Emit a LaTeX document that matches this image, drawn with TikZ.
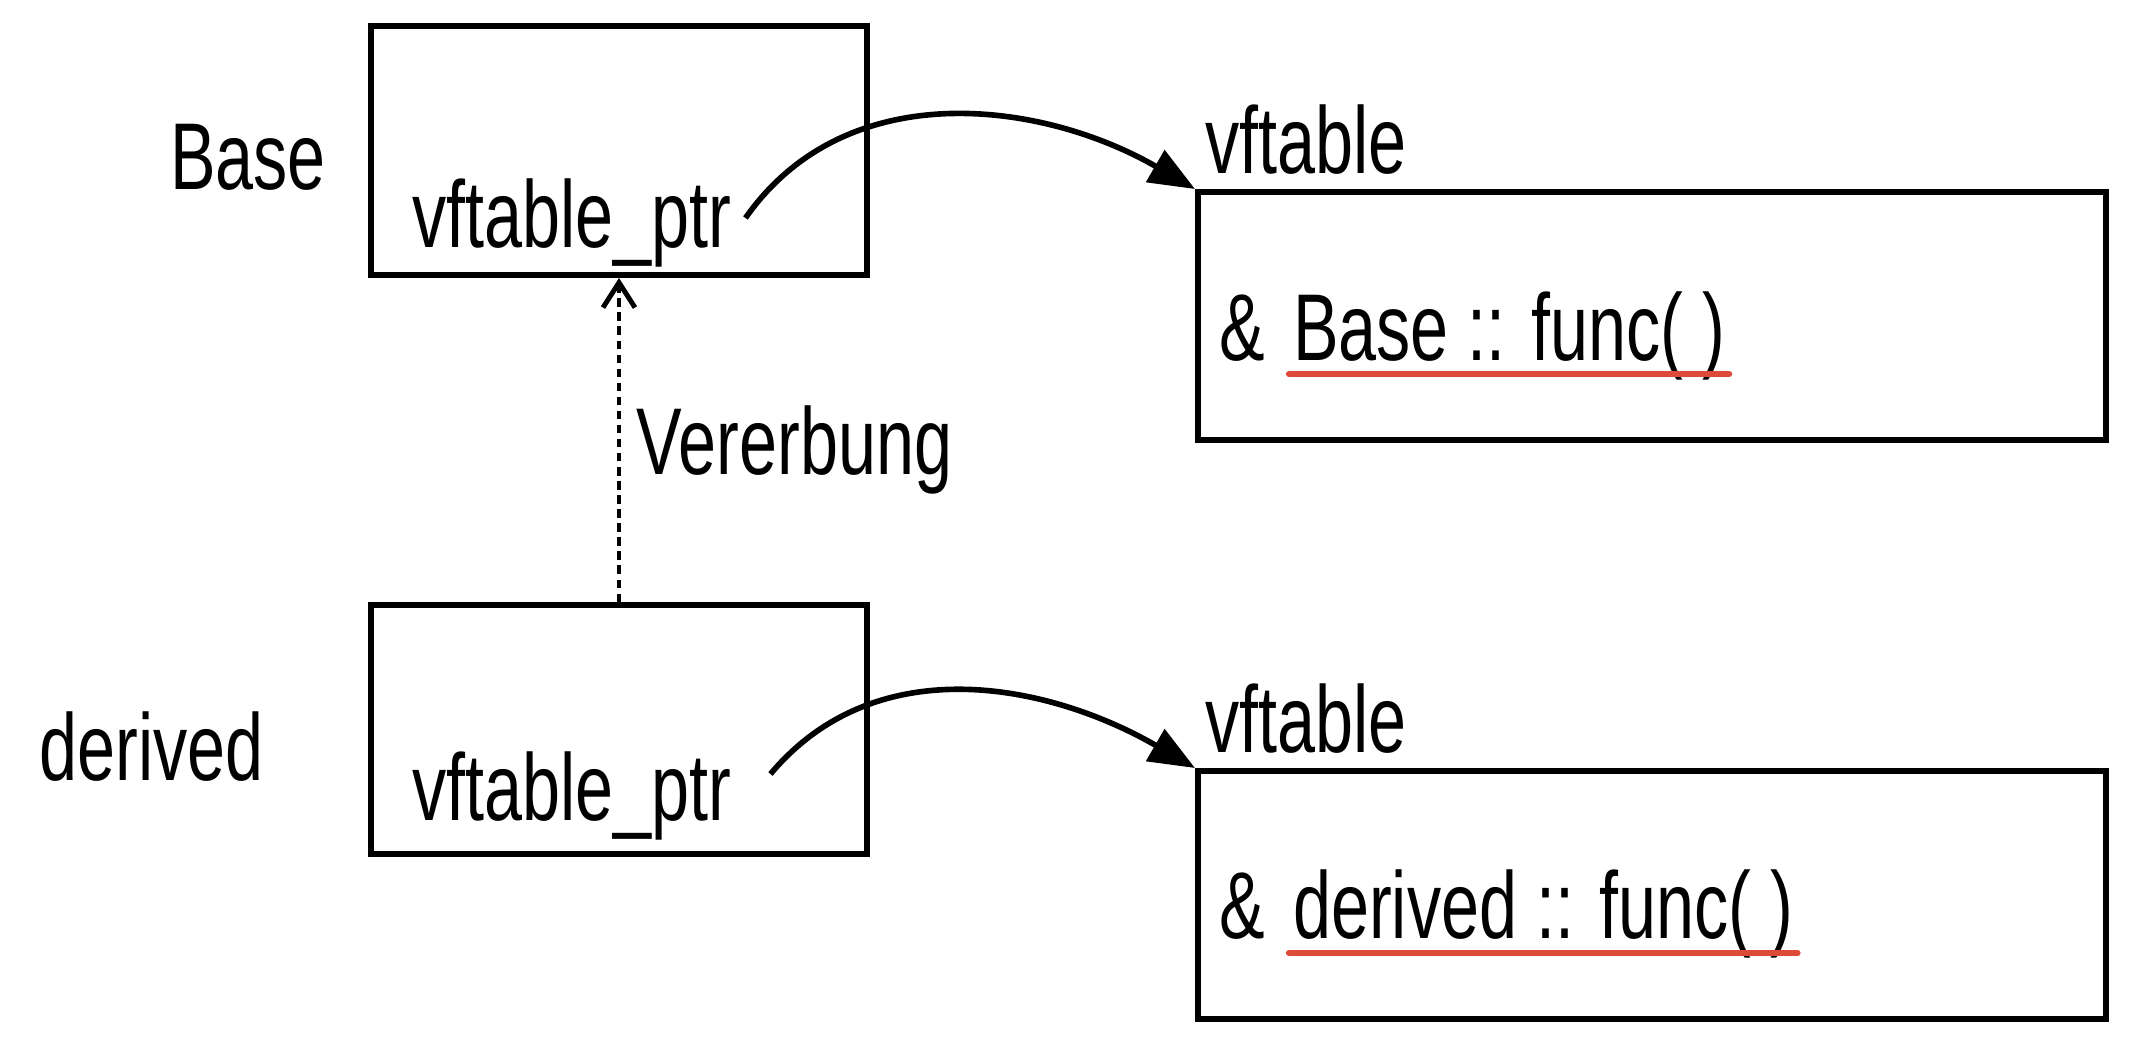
\documentclass[tikz,border=0pt]{standalone}
\usepackage{fontspec}
\setmainfont{Liberation Sans}[FakeStretch=0.72]
\usetikzlibrary{positioning,arrows.meta}
\definecolor{underlinered}{RGB}{222,74,56}

\begin{document}
\begin{tikzpicture}[
    font=\fontsize{27}{32}\selectfont,
    objbox/.style={draw, line width=1.7pt, minimum width=4.96cm, minimum height=2.49cm, inner sep=0pt},
    tablebox/.style={draw, line width=1.7pt, minimum width=9.08cm, minimum height=2.48cm, inner sep=0pt},
    txt/.style={inner sep=1pt},
    ptrarrow/.style={line width=1.6pt, -{Triangle[length=4.6mm, width=3.6mm]}},
    inherit/.style={line width=1.4pt, dash pattern=on 2.4pt off 1.6pt, -{Straight Barb[length=2.5mm, width=3.2mm]}},
    funcline/.style={underlinered, line width=1.8pt, line cap=round}
  ]
            \useasboundingbox (0, 0) rectangle (21.47, -10.47);

            \node[objbox] (Base) at (6.19, -1.505) {};
            \node[objbox] (Derived) at (6.19, -7.295) {};
            \node[tablebox] (VT1) at (16.52, -3.16) {};
            \node[tablebox] (VT2) at (16.52, -8.95) {};

            \node[txt, left=0.38 of Base, yshift=-0.07cm] (BaseName) {Base};
            \node[txt, left=1.0 of Derived, yshift=-0.17cm] (DerivedName) {derived};

            \node[txt, anchor=base west] (Ptr1) at ([shift={(0.40, 0.31)}]Base.south west) {vftable\_ptr};
            \node[txt, anchor=base west] (Ptr2) at ([shift={(0.40, 0.37)}]Derived.south west) {vftable\_ptr};

            \node[txt, above right=0.1 and 0.06 of VT1.north west] (VT1Name) {vftable};
            \node[txt, above right=0.1 and 0.06 of VT2.north west] (VT2Name) {vftable};

            \node[txt, anchor=base west] (Amp1) at ([shift={(0.2, -0.44)}]VT1.west) {\&};
            \node[txt, anchor=base west] (Fn1) at ([xshift=0.2cm]Amp1.base east) {Base :: func( )};
            \node[txt, anchor=base west] (Amp2) at ([shift={(0.2, -0.43)}]VT2.west) {\&};
            \node[txt, anchor=base west] (Fn2) at ([xshift=0.2cm]Amp2.base east) {derived :: func( )};

            \draw[funcline] ([yshift=-0.14cm]Fn1.base west) -- ([yshift=-0.14cm]Fn1.base east);
            \draw[funcline] ([yshift=-0.15cm]Fn2.base west) -- ([yshift=-0.15cm]Fn2.base east);

            \draw[ptrarrow] ([shift={(0.1, 0.29)}]Ptr1.base east) to[out=55, in=150] (VT1.north west);
            \draw[ptrarrow] ([shift={(0.35, 0.46)}]Ptr2.base east) to[out=50, in=150] (VT2.north west);

            \draw[inherit] (Derived.north) -- node[txt, right=0.12cm, pos=0.47] (InheritName) {Vererbung} (Base.south);
        \end{tikzpicture}
\end{document}
